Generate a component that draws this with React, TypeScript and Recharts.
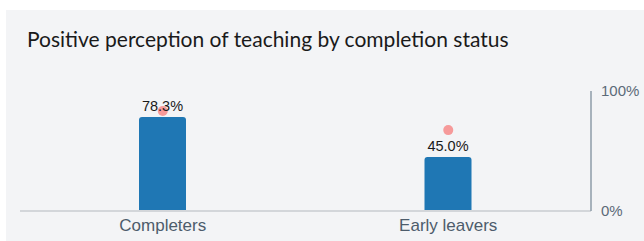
import React from 'react';
import { ComposedChart, Bar, Line, XAxis, YAxis, LabelList } from 'recharts';

const categories = ['Completers', 'Early leavers'];
const positive = [78.3, 45.0];
const benchmark = [83.3, 67.4];
const yTicks = [0, 100];

const data = categories.map((name, i) => ({
  name,
  positive: positive[i],
  benchmark: benchmark[i],
}));

export default function App() {
  return (
    <div
      style={{
        position: 'absolute',
        left: 6,
        top: 10,
        width: 638,
        height: 231,
        background: '#f3f4f6',
        fontFamily: 'Liberation Sans, Arial, sans-serif',
      }}
    >
      <div
        style={{
          position: 'absolute',
          left: 21,
          top: 16,
          fontFamily: 'Lato, sans-serif',
          fontSize: 21,
          color: '#1a1a1a',
          whiteSpace: 'nowrap',
        }}
      >
        Positive perception of teaching by completion status
      </div>
      <ComposedChart
        width={638}
        height={231}
        data={data}
        margin={{ top: 81, right: 0, left: 14, bottom: 0 }}
      >
        <XAxis
          dataKey="name"
          height={30}
          tickLine={false}
          axisLine={{ stroke: '#d3d6da', strokeWidth: 2 }}
          tick={{ fill: '#4d5c6b', fontSize: 17 }}
          tickMargin={2}
        />
        <YAxis
          orientation="right"
          width={53}
          domain={[0, 100]}
          ticks={yTicks}
          tickFormatter={(v: number) => `${v}%`}
          tickLine={false}
          axisLine={{ stroke: '#8e9ca9', strokeWidth: 1.5 }}
          tick={{ fill: '#5b6a78', fontSize: 15 }}
          tickMargin={4}
        />
        <Bar
          dataKey="positive"
          fill="#1f77b4"
          barSize={47}
          radius={[3, 3, 0, 0]}
          isAnimationActive={false}
        >
          <LabelList
            dataKey="positive"
            position="top"
            offset={6}
            formatter={(v: number) => `${v.toFixed(1)}%`}
            style={{ fill: '#1a1a1a', fontSize: 14.5 }}
          />
        </Bar>
        <Line
          dataKey="benchmark"
          stroke="none"
          dot={{ r: 5, fill: '#f69a9a', stroke: 'none' }}
          activeDot={false}
          isAnimationActive={false}
        />
      </ComposedChart>
    </div>
  );
}
